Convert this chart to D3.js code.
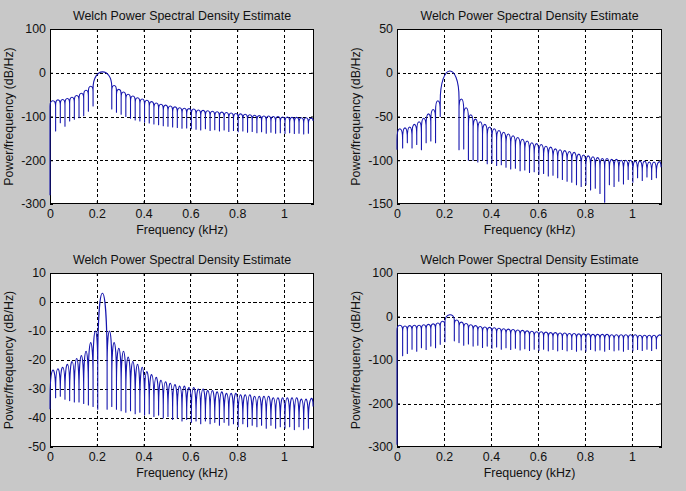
<!DOCTYPE html>
<html>
<head>
<meta charset="utf-8">
<script src="https://cdn.jsdelivr.net/npm/d3@7"></script>
<style>
html,body{margin:0;padding:0;background:#c8c8c8;}
svg{display:block;}
text{font-family:"Liberation Sans",Arial,sans-serif;font-size:12.4px;fill:#111;}
</style>
</head>
<body>
<svg id="chart" width="686" height="491"></svg>
<script>
// ---------- DATA ----------
const chartTitle = "Welch Power Spectral Density Estimate";
const xLabel = "Frequency (kHz)";
const yLabel = "Power/frequency (dB/Hz)";
const xTicks = [0, 0.2, 0.4, 0.6, 0.8, 1];

// Null (spike) frequencies in kHz, grid A (wide main lobe) and grid B (narrow main lobe)
const freqA = [0, 0.024, 0.044, 0.064, 0.084, 0.104, 0.124, 0.144, 0.164, 0.184,
  0.264, 0.284, 0.304, 0.324, 0.344, 0.364, 0.384, 0.404, 0.424, 0.444,
  0.464, 0.484, 0.504, 0.524, 0.544, 0.564, 0.584, 0.604, 0.624, 0.644,
  0.664, 0.684, 0.704, 0.724, 0.744, 0.764, 0.784, 0.804, 0.824, 0.844,
  0.864, 0.884, 0.904, 0.924, 0.944, 0.964, 0.984, 1.004, 1.024, 1.044,
  1.064, 1.084, 1.104, 1.124];
const freqB = [0, 0.024, 0.044, 0.064, 0.084, 0.104, 0.124, 0.144, 0.164, 0.184, 0.204,
  0.244, 0.264, 0.284, 0.304, 0.324, 0.344, 0.364, 0.384, 0.404, 0.424, 0.444,
  0.464, 0.484, 0.504, 0.524, 0.544, 0.564, 0.584, 0.604, 0.624, 0.644,
  0.664, 0.684, 0.704, 0.724, 0.744, 0.764, 0.784, 0.804, 0.824, 0.844,
  0.864, 0.884, 0.904, 0.924, 0.944, 0.964, 0.984, 1.004, 1.024, 1.044,
  1.064, 1.084, 1.104, 1.124];

// Top-left panel
const tlYTicks = [100, 0, -100, -200, -300];
const tlNullDb = [-280, -133, -114, -122, -110, -106, -103, -98, -88, -76,
  -83, -90, -95, -100, -104, -108, -110, -113, -115, -117,
  -119, -121, -122, -124, -125, -127, -126, -128, -129, -131,
  -128, -132, -130, -133, -131, -134, -132, -135, -133, -136,
  -134, -137, -135, -138, -136, -138, -137, -139, -137, -139,
  -138, -140, -138, -110];
const tlLobeDb = [-64, -62, -61, -59, -56, -52, -47, -40, -31, 2,
  -29, -38, -44, -49, -53, -57, -60, -63, -66, -69,
  -72, -74, -76, -78, -80, -81, -82, -83, -85, -86,
  -87, -88, -89, -90, -91, -92, -93, -94, -95, -96,
  -97, -98, -99, -99, -100, -100, -101, -101, -102, -102,
  -103, -103, -104];
const tlMainEdges = [-36, -32];

// Top-right panel
const trYTicks = [50, 0, -50, -100, -150];
const trNullDb = [-88, -86, -80, -86, -82, -88, -80, -78, -80, -50,
  -88, -87, -100, -100, -102, -100, -104, -103, -106, -105,
  -108, -110, -109, -112, -111, -114, -113, -116, -115, -118,
  -117, -120, -122, -124, -125, -128, -130, -128, -134, -132,
  -138, -148, -128, -130, -124, -127, -122, -125, -120, -123,
  -119, -122, -120, -108];
const trLobeDb = [-64, -63, -62, -59, -56, -52, -47, -42, -32, 2,
  -30, -40, -48, -53, -56, -59, -62, -64, -66, -68,
  -70, -72, -74, -76, -78, -80, -81, -82, -84, -85,
  -87, -88, -89, -90, -91, -93, -94, -95, -96, -97,
  -98, -98, -99, -99, -100, -100, -100, -101, -101, -101,
  -102, -102, -102];
const trMainEdges = [-33, -29];

// Bottom-left panel
const blYTicks = [10, 0, -10, -20, -30, -40, -50];
const blNullDb = [-37, -33, -32.5, -33.5, -34, -34.5, -34.5, -35, -35.5, -36, -37,
  -37,
  -36, -37, -37.5, -38, -37.5, -38.5, -38, -39, -38.5, -39.5,
  -39, -40, -39.5, -40.5, -40, -41, -40.5, -41.5, -41, -42,
  -41, -42, -41.5, -42.5, -41.5, -42.5, -42, -43, -42, -43,
  -42.5, -43, -42.5, -43.5, -42.5, -43.5, -43, -43.5, -43, -44,
  -43, -44, -43.5, -36];
const blLobeDb = [-23.5, -23, -22.5, -21.5, -20.5, -19.5, -18.5, -17, -14, -10,
  3,
  -10, -14, -16, -17, -19, -20.5, -21.5, -22.5, -24, -25,
  -26, -27, -27.5, -28, -28.5, -29, -29, -29.5, -29.5, -30,
  -30, -30.5, -30.5, -31, -31, -31.5, -31.5, -31.5, -32, -32,
  -32, -32.5, -32.5, -32.5, -32.5, -33, -33, -33, -33, -33,
  -33, -33.5, -33.5, -33.5];
const blMainEdges = [-22, -22];

// Bottom-right panel
const brYTicks = [100, 0, -100, -200, -300];
const brNullDb = [-295, -90, -85, -75, -80, -72, -76, -68, -72, -64, -58,
  -56,
  -60, -66, -63, -68, -66, -71, -68, -73, -70, -75,
  -72, -76, -73, -77, -74, -78, -75, -78, -75, -79,
  -76, -79, -76, -79, -76, -80, -77, -80, -76, -79,
  -77, -80, -76, -79, -77, -80, -76, -79, -76, -78,
  -75, -78, -74, -45];
const brLobeDb = [-20, -22, -21, -20, -20, -19, -18, -17, -15, -11,
  4,
  -8, -13, -16, -19, -21, -23, -24, -25, -26, -27,
  -28, -29, -30, -31, -32, -33, -34, -35, -35, -36,
  -37, -37, -38, -38, -39, -39, -40, -40, -40, -41,
  -41, -41, -41, -42, -42, -42, -42, -42, -42, -43,
  -43, -43, -43, -43];
const brMainEdges = [-14, -8];

// ---------- LAYOUT / STYLE ----------
const X_MAX = 1.128;
const ARCH_DB = 13, ARCH_FRAC = 0.85;   // rendered depth of each side-lobe arch before its spike
const LINE_COLOR = "#1616ae";

const panels = [
  {left: 50,  top: 29,  right: 314, bottom: 204, yDomain: [-300, 100], yTicks: tlYTicks, freqs: freqA, nulls: tlNullDb, lobes: tlLobeDb, edges: tlMainEdges},
  {left: 397, top: 29,  right: 662, bottom: 204, yDomain: [-150, 50],  yTicks: trYTicks, freqs: freqA, nulls: trNullDb, lobes: trLobeDb, edges: trMainEdges},
  {left: 50,  top: 273, right: 314, bottom: 447, yDomain: [-50, 10],   yTicks: blYTicks, freqs: freqB, nulls: blNullDb, lobes: blLobeDb, edges: blMainEdges},
  {left: 397, top: 273, right: 662, bottom: 447, yDomain: [-300, 100], yTicks: brYTicks, freqs: freqB, nulls: brNullDb, lobes: brLobeDb, edges: brMainEdges}
];

const svg = d3.select("#chart");

function lobePath(x, y, freqs, nulls, lobes, edges) {
  const mainIdx = d3.maxIndex(lobes);
  const p = d3.path();
  p.moveTo(x(freqs[0]), y(nulls[0]));
  lobes.forEach((peak, i) => {
    const eL = i === mainIdx ? edges[0] : peak - Math.min(ARCH_DB, ARCH_FRAC * (peak - nulls[i]));
    const eR = i === mainIdx ? edges[1] : peak - Math.min(ARCH_DB, ARCH_FRAC * (peak - nulls[i + 1]));
    const x0 = x(freqs[i]), x1 = x(freqs[i + 1]);
    const yP = y(peak), yL = y(eL), yR = y(eR);
    const yc = (8 * yP - yL - yR) / 6;
    p.lineTo(x0, yL);
    p.bezierCurveTo(x0, yc, x1, yc, x1, yR);
    p.lineTo(x1, y(nulls[i + 1]));
  });
  return p.toString();
}

panels.forEach((pn, k) => {
  const x = d3.scaleLinear().domain([0, X_MAX]).range([pn.left, pn.right]);
  const y = d3.scaleLinear().domain(pn.yDomain).range([pn.bottom, pn.top]);
  const g = svg.append("g");

  g.append("rect").attr("x", pn.left).attr("y", pn.top)
    .attr("width", pn.right - pn.left).attr("height", pn.bottom - pn.top)
    .attr("fill", "#fff");

  const grid = g.append("g").attr("stroke", "#000").attr("stroke-width", 1)
    .attr("stroke-dasharray", "3,2.5").attr("shape-rendering", "crispEdges");
  grid.selectAll("line.v").data(xTicks.filter(d => d > 0)).join("line")
    .attr("x1", d => Math.round(x(d)) + 0.5).attr("x2", d => Math.round(x(d)) + 0.5)
    .attr("y1", pn.top).attr("y2", pn.bottom);
  grid.selectAll("line.h").data(pn.yTicks.filter(d => d > pn.yDomain[0] && d < pn.yDomain[1])).join("line")
    .attr("class", "h")
    .attr("y1", d => Math.round(y(d)) + 0.5).attr("y2", d => Math.round(y(d)) + 0.5)
    .attr("x1", pn.left).attr("x2", pn.right);

  const fmt = d => String(d);
  const ax = [
    g.append("g").attr("transform", `translate(0,${pn.bottom})`)
      .call(d3.axisBottom(x).tickValues(xTicks).tickFormat(fmt).tickSize(-3).tickPadding(5.5)),
    g.append("g").attr("transform", `translate(${pn.left},0)`)
      .call(d3.axisLeft(y).tickValues(pn.yTicks).tickFormat(fmt).tickSize(-3).tickPadding(4)),
    g.append("g").attr("transform", `translate(0,${pn.top})`)
      .call(d3.axisTop(x).tickValues(xTicks).tickFormat("").tickSize(-3)),
    g.append("g").attr("transform", `translate(${pn.right},0)`)
      .call(d3.axisRight(y).tickValues(pn.yTicks).tickFormat("").tickSize(-3))
  ];
  ax.forEach(a => a.select(".domain").remove());

  g.append("rect").attr("x", pn.left + 0.5).attr("y", pn.top + 0.5)
    .attr("width", pn.right - pn.left - 1).attr("height", pn.bottom - pn.top - 1)
    .attr("fill", "none").attr("stroke", "#000").attr("stroke-width", 1)
    .attr("shape-rendering", "crispEdges");

  const cid = "clip" + k;
  svg.append("clipPath").attr("id", cid).append("rect")
    .attr("x", pn.left - 1).attr("y", pn.top).attr("width", pn.right - pn.left + 1).attr("height", pn.bottom - pn.top);
  g.append("path").attr("clip-path", `url(#${cid})`)
    .attr("d", lobePath(x, y, pn.freqs, pn.nulls, pn.lobes, pn.edges))
    .attr("fill", "none").attr("stroke", LINE_COLOR).attr("stroke-width", 1.1)
    .attr("stroke-linejoin", "round");

  const cx = (pn.left + pn.right) / 2, cy = (pn.top + pn.bottom) / 2;
  g.append("text").attr("x", cx).attr("y", pn.top - 9).attr("text-anchor", "middle").text(chartTitle);
  g.append("text").attr("x", cx).attr("y", pn.bottom + 30).attr("text-anchor", "middle").text(xLabel);
  g.append("text").attr("transform", `translate(${pn.left - 37},${cy}) rotate(-90)`)
    .attr("text-anchor", "middle").text(yLabel);
});
</script>
</body>
</html>
